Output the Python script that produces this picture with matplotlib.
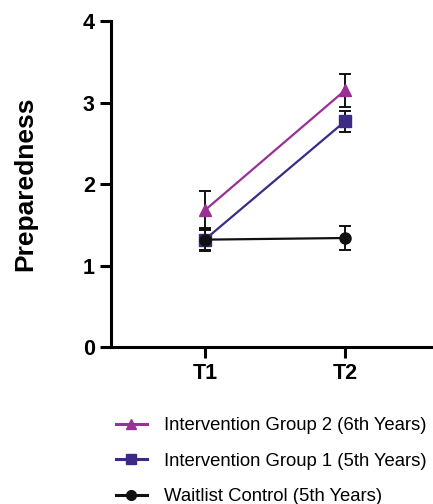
import numpy as np
import matplotlib.pyplot as plt
from matplotlib.lines import Line2D

plt.rcParams['font.family'] = ['Liberation Sans', 'DejaVu Sans']

timepoints = ["T1", "T2"]
groups = ["Intervention Group 2 (6th Years)",
          "Intervention Group 1 (5th Years)",
          "Waitlist Control (5th Years)"]
means = {
    groups[0]: [1.68, 3.15],
    groups[1]: [1.32, 2.77],
    groups[2]: [1.32, 1.34],
}
errors = {
    groups[0]: [0.24, 0.20],
    groups[1]: [0.14, 0.13],
    groups[2]: [0.13, 0.15],
}
colors = {groups[0]: "#9a2f96", groups[1]: "#3d2a86", groups[2]: "#111111"}
markers = {groups[0]: "^", groups[1]: "s", groups[2]: "o"}

fig = plt.figure(figsize=(4.33, 5.04), dpi=100)
ax = fig.add_axes([0.256, 0.311, 0.744, 0.647])

x = np.arange(len(timepoints))
for g in groups:
    ax.errorbar(x, means[g], yerr=errors[g], color=colors[g], marker=markers[g],
                markersize=8, linewidth=1.6, elinewidth=1.4, capsize=4,
                capthick=1.4, ecolor="#111111")

ax.set_xlim(-0.671, 1.629)
ax.set_ylim(0, 4)
ax.set_yticks([0, 1, 2, 3, 4])
ax.set_xticks(x)
ax.set_xticklabels(timepoints)
ax.set_ylabel("Preparedness", fontsize=19, fontweight="bold", labelpad=33)

for s in ["top", "right"]:
    ax.spines[s].set_visible(False)
for s in ["left", "bottom"]:
    ax.spines[s].set_linewidth(2.2)
ax.tick_params(width=2.2, length=8, labelsize=15.5)
for lbl in ax.get_xticklabels() + ax.get_yticklabels():
    lbl.set_fontweight("bold")

handles = [Line2D([], [], color=colors[g], marker=markers[g], markersize=7,
                  linewidth=2.2) for g in groups]
fig.legend(handles, groups, loc="upper left", bbox_to_anchor=(0.25, 0.187),
           frameon=False, fontsize=13.3, handlelength=1.7, handletextpad=0.9,
           labelspacing=1.0, borderaxespad=0)

plt.savefig("out.png", dpi=100)
